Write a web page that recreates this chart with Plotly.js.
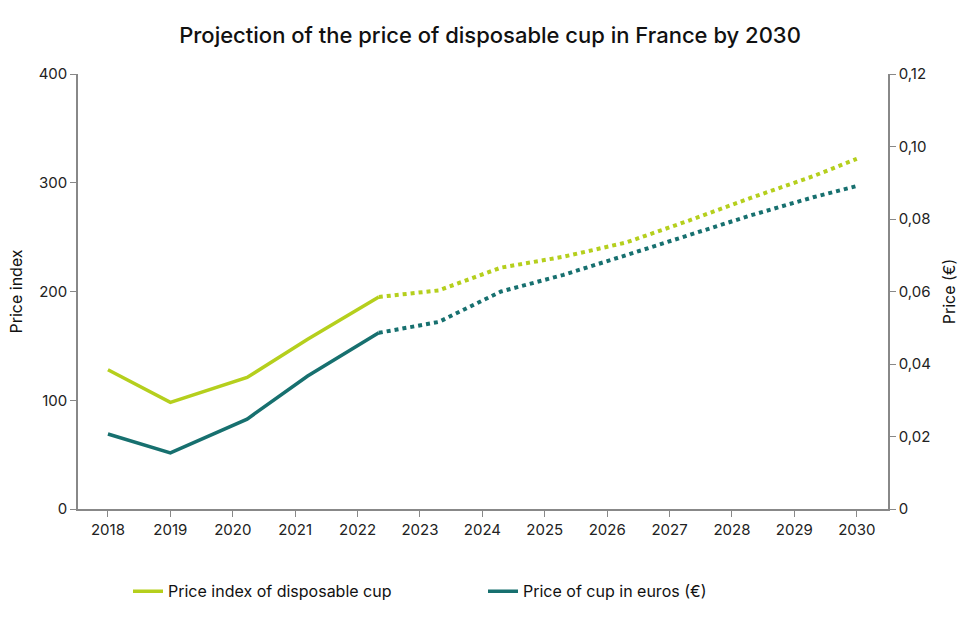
<!DOCTYPE html>
<html><head><meta charset="utf-8">
<script src="https://cdn.plot.ly/plotly-3.0.1.min.js"></script>
<style>body{margin:0;background:#fff}#c{width:980px;height:624px}</style>
</head><body><div id="c"></div>
<script>
// actual years and projected years (x positions as drawn in the source)
const histX = [2018, 2019, 2020.23, 2021.2, 2022.34];
const projX = [2022.34, 2023.3, 2024.3, 2025.3, 2026.3, 2027.3, 2028.3, 2029.3, 2030];
const indexHist = [128, 98, 121, 156, 195];
const indexProj = [195, 201, 222, 232, 245, 265, 286, 306, 322];
const eurHist = [0.0207, 0.0155, 0.0248, 0.0367, 0.0486];
const eurProj = [0.0486, 0.0516, 0.060, 0.0646, 0.070, 0.0755, 0.081, 0.086, 0.0891];
const years = [2018, 2019, 2020, 2021, 2022, 2023, 2024, 2025, 2026, 2027, 2028, 2029, 2030];

const LIME = "#b5cf1d", TEAL = "#17706f";
const traces = [
  { x: histX, y: indexHist, name: "Price index of disposable cup", mode: "lines", line: { color: LIME, width: 3.5 } },
  { x: projX, y: indexProj, mode: "lines", line: { color: LIME, width: 4, dash: "dot" }, showlegend: false },
  { x: histX, y: eurHist, name: "Price of cup in euros (€)", mode: "lines", yaxis: "y2", line: { color: TEAL, width: 3.5 } },
  { x: projX, y: eurProj, mode: "lines", yaxis: "y2", line: { color: TEAL, width: 4, dash: "dot" }, showlegend: false },
];
const ax = { showgrid: false, zeroline: false, showline: true, linecolor: "#888", linewidth: 1.5,
  ticks: "outside", tickcolor: "#888", ticklen: 6, tickfont: { size: 15, color: "#222" } };
const layout = {
  width: 980, height: 624,
  font: { family: "Inter, 'DejaVu Sans', sans-serif", color: "#111" },
  paper_bgcolor: "#fff", plot_bgcolor: "#fff",
  margin: { l: 78, r: 92, t: 74, b: 115 },
  title: { text: "Projection of the price of disposable cup in France by 2030", x: 0.5, y: 0.955, font: { size: 22, color: "#111", weight: 500 } },
  xaxis: { ...ax, range: [2017.52, 2030.5], tickvals: years, ticktext: years.map(String) },
  yaxis: { ...ax, range: [0, 400], dtick: 100, title: { text: "Price index", font: { size: 16 }, standoff: 12 } },
  yaxis2: { ...ax, overlaying: "y", side: "right", range: [0, 0.12], dtick: 0.02,
    tickvals: [0, 0.02, 0.04, 0.06, 0.08, 0.1, 0.12], ticktext: ["0", "0,02", "0,04", "0,06", "0,08", "0,10", "0,12"],
    title: { text: "Price (€)", font: { size: 16 }, standoff: 14 } },
  showlegend: true,
  legend: { orientation: "h", x: 0.5, xanchor: "center", y: -0.15, yanchor: "top", font: { size: 16 }, entrywidth: 310 },
};
Plotly.newPlot("c", traces, layout, { displayModeBar: false });
</script></body></html>
